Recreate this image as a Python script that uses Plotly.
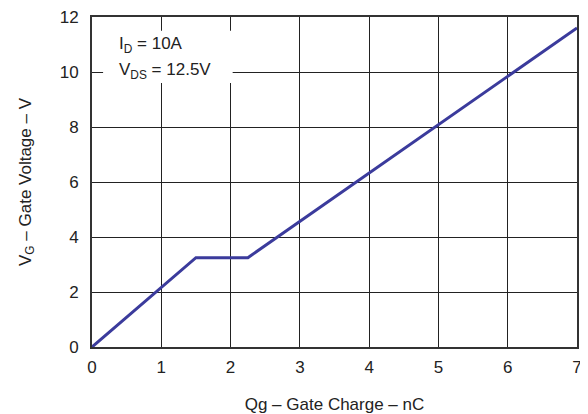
import plotly.graph_objects as go

# Data
qg = [0, 1.5, 2.25, 7.0]          # nC
vg = [0, 3.25, 3.25, 11.6]        # V
x_ticks = [0, 1, 2, 3, 4, 5, 6, 7]
y_ticks = [0, 2, 4, 6, 8, 10, 12]
note_lines = ["I<sub>D</sub> = 10A", "V<sub>DS</sub> = 12.5V"]

FONT = "Liberation Sans, Arial, sans-serif"
LINE_COLOR = "#3b3b9c"
TXT = "#222222"

fig = go.Figure()
fig.add_trace(go.Scatter(x=qg, y=vg, mode="lines",
                         line=dict(color=LINE_COLOR, width=3),
                         showlegend=False, hoverinfo="skip"))

# page body has an 8px margin, so the figure is 580x406 placed at (8,8)
fig.update_layout(
    width=580, height=406,
    margin=dict(l=84, r=11, t=9, b=67, autoexpand=False),
    paper_bgcolor="white", plot_bgcolor="white",
    font=dict(family=FONT, size=17, color=TXT),
    xaxis=dict(range=[0, 7], tickvals=x_ticks, showgrid=True,
               gridcolor="#222222", gridwidth=1, zeroline=False,
               showline=True, linecolor="#333333", linewidth=2, mirror=True,
               ticks="", ticklabelstandoff=4, tickfont=dict(size=17),
               ticklabeloverflow="allow",
               title=dict(text="Qg – Gate Charge – nC", standoff=26,
                          font=dict(size=17))),
    yaxis=dict(range=[0, 12], tickvals=y_ticks, showgrid=True,
               gridcolor="#222222", gridwidth=1, zeroline=False,
               showline=True, linecolor="#333333", linewidth=2, mirror=True,
               ticks="", ticklabelstandoff=8, tickfont=dict(size=17),
               ticklabeloverflow="allow",
               title=dict(text="V<sub>G</sub> – Gate Voltage – V", standoff=24,
                          font=dict(size=17))),
)

# white box behind the condition text
fig.add_shape(type="rect", xref="x", yref="y", x0=0.16, x1=2.03, y0=9.6, y1=11.5,
              fillcolor="white", line=dict(width=0), layer="above")

fig.add_annotation(xref="x", yref="y", x=0.36, y=10.98, xanchor="left", yanchor="middle",
                   text=note_lines[0], showarrow=False, font=dict(size=17, color=TXT))
fig.add_annotation(xref="x", yref="y", x=0.36, y=10.05, xanchor="left", yanchor="middle",
                   text=note_lines[1], showarrow=False, font=dict(size=17, color=TXT))

fig.write_html("out.html")
